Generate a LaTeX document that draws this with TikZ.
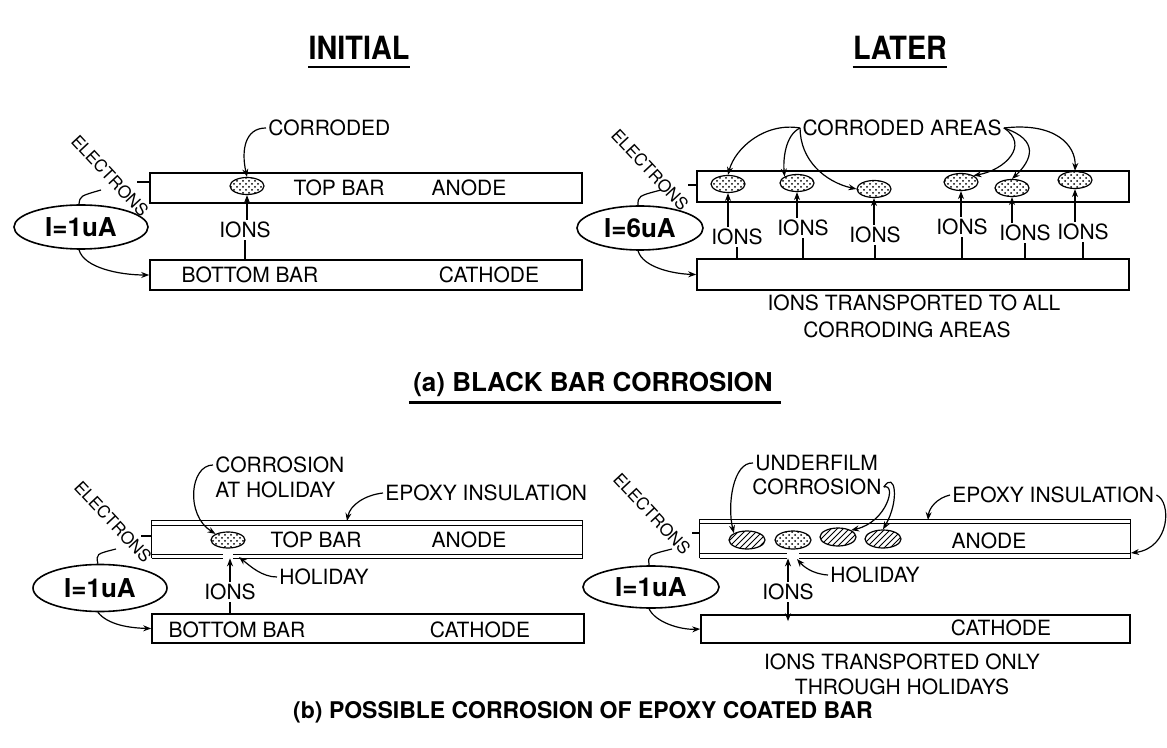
\documentclass[tikz,border=0pt]{standalone}
\usepackage{fontspec}
\setmainfont{TeX Gyre Heros}
\usepackage{graphicx}
\usetikzlibrary{arrows.meta,patterns,shapes.geometric}
\tikzset{
  lbl/.style={font=\fontsize{10.5}{12}\selectfont, inner sep=1pt},
  bar/.style={draw, rectangle, line width=0.8pt, inner sep=0pt},
  barl/.style={line width=0.8pt},
  innerl/.style={line width=0.5pt},
  src/.style={draw, ellipse, line width=0.8pt, inner sep=0pt, font=\fontsize{13}{15}\selectfont\bfseries},
  arr/.style={-{Stealth[length=4pt,width=3pt]}, line width=0.6pt},
  wire/.style={line width=0.6pt},
  spot/.style={draw, ellipse, line width=0.6pt, inner sep=0pt, minimum width=17pt, minimum height=8.5pt, pattern=crosshatch dots},
  hatch/.style={draw, ellipse, line width=0.6pt, inner sep=0pt, minimum width=18pt, minimum height=9pt, pattern=north east lines},
  elec/.style={font=\fontsize{8.5}{10}\selectfont, rotate=-47, inner sep=0pt},
  ttl/.style={font=\fontsize{16}{18}\selectfont\bfseries, inner sep=0pt},
  capt/.style={inner sep=0pt},
}
\begin{document}
\begin{tikzpicture}[x=0.5pt,y=-0.5pt]
\useasboundingbox (0,0) rectangle (1167,748);

% ---------- titles ----------
\node[ttl] (tinit) at (359,48) {\scalebox{0.9}[1]{INITIAL}};
\node[ttl] (tlater) at (900,48) {\scalebox{0.9}[1]{LATER}};
\draw[line width=1.2pt] ([yshift=-3.5pt]tinit.south west) -- ([yshift=-3.5pt]tinit.south east);
\draw[line width=1.2pt] ([yshift=-3.5pt]tlater.south west) -- ([yshift=-3.5pt]tlater.south east);

% ================= (a) INITIAL =================
\node[bar, minimum width=216pt, minimum height=15pt] (tb1) at (366,188) {};
\node[bar, minimum width=216pt, minimum height=15pt] (bb1) at (366,275) {};
\node[spot] (c0) at (247,186) {};
\node[lbl, anchor=west] (corr) at (266,128) {CORRODED};
\draw[arr] (corr.west) .. controls (245,128) and (241,150) .. (c0.north);
\node[lbl] (tbt1) at (339,188) {TOP BAR};
\node[lbl] (an1) at (469,188) {ANODE};
\node[lbl] (ions0) at (245,230) {IONS};
\draw[wire] (ions0.south |- bb1.north) -- (ions0.south);
\draw[arr] (c0.south |- ions0.north) -- (c0.south);
\node[lbl] (bbt1) at (250,275) {BOTTOM BAR};
\node[lbl] (ca1) at (489,275) {CATHODE};
\node[src, minimum width=67pt, minimum height=22pt] (src1) at (81,227) {I=1uA};
\node[elec] (el1) at (110,176) {ELECTRONS};
\coordinate (w1) at (101,190);
\coordinate (w1b) at (137,182);
\draw[wire] (src1.95) .. controls (80,196) .. (w1);
\draw[wire] (w1b) -- (w1b -| tb1.west);
\draw[arr] (src1.265) .. controls (84,268) and (120,275) .. (bb1.west);

% ================= (a) LATER =================
\node[bar, minimum width=216pt, minimum height=15.5pt] (tb2) at (913,186.5) {};
\node[bar, minimum width=216pt, minimum height=15.5pt] (bb2) at (913,274.5) {};
\foreach \i/\px/\py in {1/728/184, 2/797/183, 3/874/189, 4/961/182, 5/1012/188, 6/1075/180}
  \node[spot] (c\i) at (\px,\py) {};
\node[lbl] (cra) at (902,128) {CORRODED AREAS};
\draw[arr] (cra.west) .. controls (765,122) and (735,148) .. (c1.north);
\draw[arr] (cra.west) .. controls (785,135) and (783,160) .. (c2.north west);
\draw[arr] (cra.west) .. controls (800,160) and (825,182) .. (c3.west);
\draw[arr] (cra.east) .. controls (1030,145) and (1005,170) .. (c4.north east);
\draw[arr] (cra.east) .. controls (1040,140) and (1032,160) .. (c5.north);
\draw[arr] (cra.east) .. controls (1055,122) and (1076,145) .. (c6.north);
\foreach \i/\px/\py in {1/737/237, 2/803/228, 3/875/235, 4/962/227, 5/1025/233, 6/1083/232} {
  \node[lbl] (li\i) at (\px,\py) {IONS};
  \draw[wire] (li\i.south |- bb2.north) -- (li\i.south);
  \draw[arr] (c\i.south |- li\i.north) -- (c\i.south);
}
\node[lbl] (tr1) at (914,303) {IONS TRANSPORTED TO ALL};
\node[lbl] (tr2) at (907,330) {CORRODING AREAS};
\node[src, minimum width=63pt, minimum height=22pt] (src2) at (640,228) {I=6uA};
\node[elec] (el2) at (650,170) {ELECTRONS};
\coordinate (w2) at (661,190);
\coordinate (w2b) at (688,185);
\draw[wire] (src2.95) .. controls (638,196) .. (w2);
\draw[wire] (w2b) -- (w2b -| tb2.west);
\draw[arr] (src2.265) .. controls (643,268) and (675,274) .. (bb2.west);

% caption (a)
\node[capt, font=\fontsize{13}{15}\selectfont\bfseries] (capa) at (593,384) {(a) BLACK BAR CORROSION};
\draw[line width=1.2pt] ([yshift=-3pt,xshift=-2pt]capa.south west) -- ([yshift=-3pt,xshift=4pt]capa.south east);

% ================= (b) INITIAL =================
\node[spot, minimum width=17pt, minimum height=8pt] (h1) at (228,540) {};
\node[inner sep=0pt, minimum width=215pt, minimum height=18.5pt] (tb3) at (367,539.5) {};
\draw[barl] (tb3.south west) -- (tb3.north west) -- (tb3.north east) -- (tb3.south east) -- ([xshift=2.5pt]h1.south |- tb3.south);
\draw[barl] (tb3.south west) -- ([xshift=-2.5pt]h1.south |- tb3.south);
\draw[innerl] ([yshift=-2.5pt]tb3.north west) -- ([yshift=-2.5pt]tb3.north east);
\draw[innerl] ([yshift=2pt]tb3.south west) -- ([xshift=-2.5pt,yshift=2pt]h1.south |- tb3.south);
\draw[innerl] ([xshift=2.5pt,yshift=2pt]h1.south |- tb3.south) -- ([yshift=2pt]tb3.south east);
\node[bar, minimum width=216pt, minimum height=14.5pt] (bb3) at (368,628.5) {};
\node[lbl, anchor=west] (cah1) at (213,465) {CORROSION};
\node[lbl, anchor=west] (cah2) at (213,490) {AT HOLIDAY};
\draw[arr] (cah1.west) .. controls (190,465) and (185,515) .. (h1.north west);
\node[lbl, anchor=west] (ep3) at (383,493) {EPOXY INSULATION};
\coordinate (ep3t) at (347,521);
\draw[arr] (ep3.west) .. controls (365,495) and (350,505) .. (ep3t);
\node[lbl] (tbt3) at (316,540) {TOP BAR};
\node[lbl] (an3) at (469,540) {ANODE};
\node[lbl, anchor=west] (hol3) at (277,577) {HOLIDAY};
\coordinate (hol3t) at (239,557);
\draw[arr] (hol3.west) .. controls (262,577) and (250,566) .. (hol3t);
\node[lbl] (i3) at (230,592) {IONS};
\draw[arr] (i3.north) -- (i3.north |- tb3.south);
\draw[wire] (i3.south) -- (i3.south |- bb3.north);
\node[lbl] (bbt3) at (237,630) {BOTTOM BAR};
\node[lbl] (ca3) at (480,630) {CATHODE};
\node[src, minimum width=67pt, minimum height=23.5pt] (src3) at (100,588) {I=1uA};
\node[elec] (el3) at (113,522) {ELECTRONS};
\coordinate (w3) at (116,549);
\coordinate (w3b) at (141,536);
\draw[wire] (src3.95) .. controls (96,554) .. (w3);
\draw[wire] (w3b) -- (w3b -| tb3.west);
\draw[arr] (src3.265) .. controls (108,625) and (130,628) .. (bb3.west);

% ================= (b) LATER =================
\node[hatch] (u1) at (747,540) {};
\node[spot, minimum width=18pt, minimum height=9pt] (u2) at (793,540) {};
\node[hatch] (u3) at (838,537) {};
\node[hatch] (u4) at (883,539) {};
\node[inner sep=0pt, minimum width=215pt, minimum height=19pt] (tb4) at (915,539) {};
\draw[barl] (tb4.south west) -- (tb4.north west) -- (tb4.north east) -- (tb4.south east) -- ([xshift=3pt]u2.south |- tb4.south);
\draw[barl] (tb4.south west) -- ([xshift=-3pt]u2.south |- tb4.south);
\draw[innerl] ([yshift=-2pt]tb4.north west) -- ([yshift=-2pt]tb4.north east);
\draw[innerl] ([yshift=2.5pt]tb4.south west) -- ([xshift=-3pt,yshift=2.5pt]u2.south |- tb4.south);
\draw[innerl] ([xshift=3pt,yshift=2.5pt]u2.south |- tb4.south) -- ([yshift=2.5pt]tb4.south east);
\node[bar, minimum width=214.5pt, minimum height=14pt] (bb4) at (915.5,629) {};
\node[lbl, anchor=west] (uf1) at (753,463) {UNDERFILM};
\node[lbl, anchor=west] (uf2) at (750,487) {CORROSION};
\draw[arr] (uf1.west) .. controls (733,462) and (727,505) .. (u1.north west);
\draw[arr] (uf2.east) .. controls (897,483) and (887,522) .. (u3.north east);
\draw[arr] (uf2.east) .. controls (895,470) and (900,500) .. (u4.north);
\node[lbl, anchor=west] (ep4) at (950,495) {EPOXY INSULATION};
\coordinate (ep4t) at (928,520);
\coordinate (ep4r) at (1131,553);
\draw[arr] (ep4.west) .. controls (937,498) and (929,508) .. (ep4t);
\draw[arr] (ep4.east) .. controls (1172,502) and (1170,548) .. (ep4r);
\node[lbl] (an4) at (989,541) {ANODE};
\node[lbl, anchor=west] (hol4) at (828,575) {HOLIDAY};
\coordinate (hol4t) at (797,559);
\draw[arr] (hol4.west) .. controls (812,574) and (803,566) .. (hol4t);
\node[lbl] (i4) at (788,592) {IONS};
\draw[arr] (i4.north) -- (i4.north |- tb4.south);
\draw[arr] (i4.south) -- ([yshift=-3.5pt]i4.south |- bb4.north);
\node[lbl] (ca4) at (1001,628) {CATHODE};
\node[lbl] (tr3) at (902,662) {IONS TRANSPORTED ONLY};
\node[lbl] (tr4) at (902,687) {THROUGH HOLIDAYS};
\node[src, minimum width=68pt, minimum height=21pt] (src4) at (651,587) {I=1uA};
\node[elec] (el4) at (652,514) {ELECTRONS};
\coordinate (w4) at (672,549);
\coordinate (w4b) at (692,533);
\draw[wire] (src4.95) .. controls (648,555) .. (w4);
\draw[wire] (w4b) -- (w4b -| tb4.west);
\draw[arr] (src4.265) .. controls (655,622) and (680,630) .. (bb4.west);

% caption (b)
\node[capt, font=\fontsize{11.5}{14}\selectfont\bfseries] (capb) at (583,712) {(b) POSSIBLE CORROSION OF EPOXY COATED BAR};
\end{tikzpicture}
\end{document}
